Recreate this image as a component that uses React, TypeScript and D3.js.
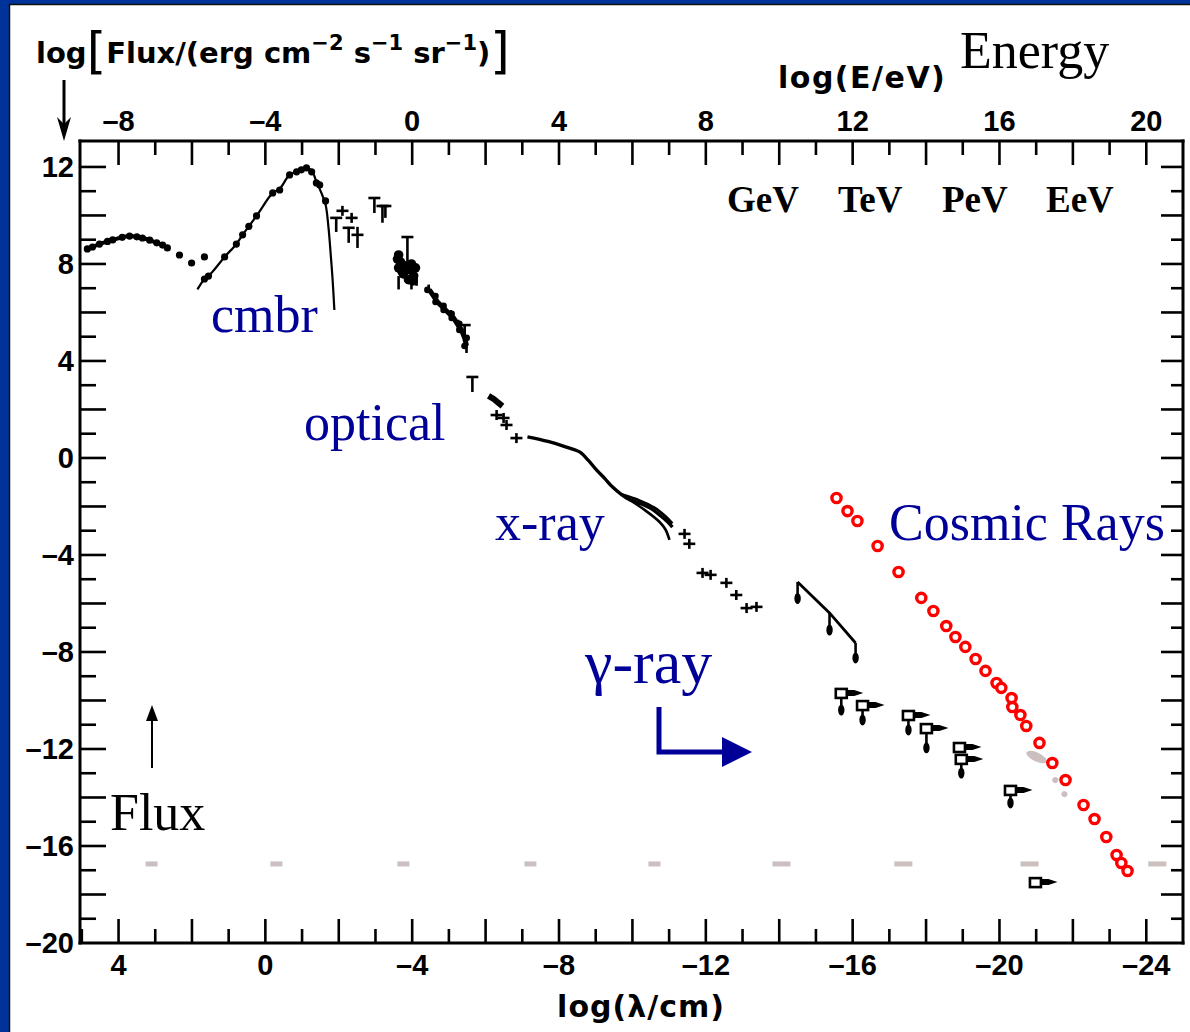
import React from 'react';
import * as d3 from 'd3';

type P = [number, number];

// ---------- axis ticks ----------
const lambdaTickLabels = [4, 0, -4, -8, -12, -16, -20, -24];
const energyTickLabels = [-8, -4, 0, 4, 8, 12, 16, 20];
const fluxTickLabels = [12, 8, 4, 0, -4, -8, -12, -16, -20];
const energyUnits = ['GeV', 'TeV', 'PeV', 'EeV'];

// ---------- data: [log(lambda/cm), log Flux] ----------
const radioLine: P[] = [[4.85, 8.62], [4.71, 8.70], [4.52, 8.82], [4.30, 8.93], [4.16, 8.99], [3.90, 9.10], [3.70, 9.15], [3.50, 9.12], [3.35, 9.07], [3.15, 8.98], [2.96, 8.87], [2.80, 8.78], [2.67, 8.66]];
const radioDots: P[] = [[4.85, 8.62], [4.71, 8.70], [4.52, 8.82], [4.30, 8.93], [4.16, 8.99], [3.90, 9.10], [3.70, 9.15], [3.50, 9.12], [3.35, 9.07], [3.15, 8.98], [2.96, 8.87], [2.80, 8.78], [2.67, 8.66], [2.34, 8.37], [2.01, 8.04], [1.66, 8.29]];
const cmbCurve: P[] = [[1.85, 6.95], [1.66, 7.38], [1.47, 7.63], [1.11, 8.29], [0.79, 8.82], [0.62, 9.20], [0.24, 9.98], [-0.20, 10.93], [-0.39, 11.10], [-0.66, 11.67], [-0.93, 11.85], [-1.12, 11.96], [-1.26, 11.85], [-1.39, 11.40], [-1.52, 10.95], [-1.64, 10.45], [-1.72, 9.50], [-1.78, 8.40], [-1.83, 7.40], [-1.88, 6.10]];
const cmbDots: P[] = [[1.66, 7.38], [1.55, 7.50], [1.11, 8.29], [0.79, 8.82], [0.62, 9.20], [0.45, 9.55], [0.24, 9.98], [-0.20, 10.93], [-0.39, 11.05], [-0.66, 11.67], [-0.85, 11.80], [-0.98, 11.88], [-1.12, 11.96], [-1.26, 11.80], [-1.39, 11.34], [-1.48, 11.26], [-1.64, 10.60]];
const irCrosses: P[] = [[-2.10, 10.19], [-2.35, 9.90]];
// [lambda, top, bottom] upper-limit "T" marks
const irLimits: [number, number, number][] = [[-1.93, 9.90, 9.32], [-2.97, 10.72, 10.10], [-3.19, 10.39, 9.70], [-3.27, 10.39, 9.90], [-3.87, 9.11, 8.10], [-5.43, 5.48, 5.07], [-5.64, 3.34, 2.72]];
// [lambda, centre, low, high] error bars
const irBars: [number, number, number, number][] = [[-2.27, 9.49, 8.87, 9.53], [-2.51, 9.20, 8.66, 9.53]];
const opticalBlob: P[] = [[-3.63, 8.37], [-3.68, 8.08], [-3.82, 7.92], [-3.95, 7.75], [-3.76, 7.59], [-4.04, 7.51], [-3.63, 7.84], [-3.90, 7.35], [-4.09, 7.84], [-3.72, 7.70], [-3.98, 8.00], [-3.60, 8.20], [-4.02, 7.30]];
// [lambda, low, high] plain vertical bars
const legBars: [number, number, number][] = [[-3.63, 6.95, 7.5], [-3.98, 6.95, 7.5], [-4.12, 7.1, 7.6], [-5.48, 4.33, 4.7], [-4.45, 6.85, 7.15], [-5.05, 5.7, 6.1], [-5.25, 5.3, 5.7]];
const nirBand: P[] = [[-4.47, 6.93], [-4.58, 6.68], [-4.69, 6.43], [-4.80, 6.27], [-4.91, 6.10], [-5.02, 5.94], [-5.13, 5.77], [-5.23, 5.53], [-5.34, 5.28], [-5.43, 4.95], [-5.48, 4.62]];
const uvBlob: P[] = [[-6.08, 2.56], [-6.22, 2.43], [-6.35, 2.27], [-6.46, 2.14]];
const uvCrosses: P[] = [[-6.30, 1.77], [-6.49, 1.65], [-6.57, 1.36], [-6.84, 0.82]];
const xrayMain: P[] = [[-7.14, 0.87], [-7.70, 0.68], [-8.20, 0.45], [-8.56, 0.25], [-8.80, -0.10], [-9.02, -0.49], [-9.25, -0.85], [-9.46, -1.20], [-9.84, -1.65], [-10.19, -1.86], [-10.50, -2.08], [-10.74, -2.35], [-10.95, -2.62], [-11.09, -2.85]];
const xrayLower: P[] = [[-9.84, -1.65], [-10.33, -2.14], [-10.74, -2.64], [-10.90, -2.95], [-11.01, -3.38]];
const xrayUpper: P[] = [[-9.70, -1.50], [-10.19, -1.75], [-10.60, -2.05], [-10.90, -2.40], [-11.09, -2.70]];
const gammaCrosses: P[] = [[-11.42, -3.13], [-11.55, -3.54], [-11.91, -4.74], [-12.13, -4.82], [-12.56, -5.15], [-12.83, -5.65], [-13.11, -6.19], [-13.38, -6.14]];
const cosbLine: P[] = [[-14.50, -5.11], [-15.37, -6.39], [-16.08, -7.63]];
const cosbArrows: [number, number, number][] = [[-14.50, -5.11, -6.0], [-15.37, -6.39, -7.3], [-16.08, -7.63, -8.45]];
// [lambda, flux, arrow end or null]
const upperLimits: [number, number, number | null][] = [[-15.69, -9.73, -10.60], [-16.27, -10.23, -11.01], [-17.52, -10.64, -11.42], [-18.01, -11.18, -12.16], [-18.91, -11.96, null], [-18.96, -12.45, -13.20], [-20.30, -13.73, -14.43], [-20.98, -17.53, null]];
const cosmicRays: P[] = [[-15.56, -1.65], [-15.86, -2.19], [-16.13, -2.60], [-16.68, -3.63], [-17.25, -4.70], [-17.87, -5.77], [-18.20, -6.31], [-18.55, -6.93], [-18.80, -7.38], [-19.07, -7.79], [-19.35, -8.29], [-19.62, -8.78], [-19.92, -9.28], [-20.05, -9.48], [-20.33, -9.90], [-20.35, -10.27], [-20.57, -10.60], [-20.73, -11.05], [-21.09, -11.75], [-21.44, -12.58], [-21.80, -13.28], [-22.29, -14.31], [-22.59, -14.89], [-22.91, -15.63], [-23.19, -16.37], [-23.32, -16.70], [-23.49, -17.03]];
const greyDashLambda = [3.10, -0.30, -3.76, -7.22, -10.60, -14.06, -17.38, -20.82, -24.30];
const greyDashFlux = -16.74;
const greySmudges: P[] = [[-21.01, -12.33], [-21.52, -13.28], [-21.77, -13.86]];

const BLUE = '#000099';
const FRAME = '#003399';
const AXF = 'DejaVu Sans, Verdana, sans-serif';
const TICKF = 'Liberation Sans, Arial, sans-serif';
const SERIF = 'Liberation Serif, Times New Roman, serif';

const fmt = (v: number) => (v < 0 ? '\u2013' + Math.abs(v) : String(v));

export default function App() {
  const x = d3.scaleLinear().domain([5.05, -25]).range([80, 1183]);
  const y = d3.scaleLinear().domain([-20, 13.07]).range([943, 141]);
  const xE = d3.scaleLinear().domain([-9.05, 21]).range([80, 1183]);
  const [X0, X1] = x.range();
  const [Y0, Y1] = y.range();
  const lin = d3.line<P>().x(d => x(d[0])).y(d => y(d[1]));
  const smooth = d3.line<P>().x(d => x(d[0])).y(d => y(d[1])).curve(d3.curveCatmullRom);

  const LONG = 24, SHORT = 14;
  const bottomTicks = d3.range(5, -24.5, -1);
  const topTicks = d3.range(-9, 20.5, 1).filter(e => xE(e) > X0 + 3);
  const sideTicks = d3.range(-19, 12.5, 1);

  const drop = (cx: number, cy: number) => (
    <ellipse cx={cx} cy={cy - 5} rx={3.2} ry={5.5} fill="#000" />
  );

  return (
    <svg width={1190} height={1032} style={{ position: 'absolute', left: 0, top: 0, background: '#fff' }}>
      <rect x={0} y={0} width={1190} height={1032} fill="#fff" />
      {/* blue slide frame */}
      <rect x={0} y={0} width={1190} height={4} fill={FRAME} />
      <rect x={0} y={0} width={9} height={1032} fill={FRAME} />
      <line x1={9} y1={4.5} x2={1190} y2={4.5} stroke="#111" strokeWidth={1.5} />
      <line x1={9.5} y1={4} x2={9.5} y2={1032} stroke="#111" strokeWidth={1.5} />

      {/* frame */}
      <g stroke="#000" strokeWidth={3} fill="none" strokeLinecap="square">
        <line x1={X0} y1={Y0} x2={X1} y2={Y0} />
        <line x1={X0} y1={Y1} x2={X1} y2={Y1} />
        <line x1={X0} y1={Y0} x2={X0} y2={Y1} />
        <line x1={X1} y1={Y0} x2={X1} y2={Y1} />
      </g>
      <g stroke="#000" strokeWidth={2.6}>
        {bottomTicks.map(t => (
          <line key={'b' + t} x1={x(t)} x2={x(t)} y1={Y0} y2={Y0 - (t % 2 === 0 ? LONG : SHORT)} />
        ))}
        {topTicks.map(t => (
          <line key={'t' + t} x1={xE(t)} x2={xE(t)} y1={Y1} y2={Y1 + (t % 2 === 0 ? LONG : SHORT)} />
        ))}
        {sideTicks.map(t => (
          <line key={'l' + t} x1={X0} x2={X0 + (t % 2 === 0 ? LONG + 2 : SHORT + 2)} y1={y(t)} y2={y(t)} />
        ))}
        {sideTicks.map(t => (
          <line key={'r' + t} x1={X1} x2={X1 - (t % 2 === 0 ? LONG - 2 : SHORT - 2)} y1={y(t)} y2={y(t)} />
        ))}
      </g>

      {/* tick labels */}
      <g fontFamily={TICKF} fontWeight="bold" fontSize={29} fill="#000">
        {lambdaTickLabels.map(t => (
          <text key={'bl' + t} x={x(t)} y={Y0 + 32} textAnchor="middle">{fmt(t)}</text>
        ))}
        {energyTickLabels.map(t => (
          <text key={'tl' + t} x={xE(t)} y={Y1 - 10} textAnchor="middle">{fmt(t)}</text>
        ))}
        {fluxTickLabels.map(t => (
          <text key={'yl' + t} x={X0 - 6} y={y(t) + 10} textAnchor="end">{fmt(t)}</text>
        ))}
      </g>

      {/* axis titles */}
      <text x={36} y={63} fontFamily={AXF} fontWeight="bold" fontSize={29} fill="#000">
        log<tspan fontSize={50} fontWeight="normal" dy={5}>[</tspan><tspan dy={-5}>Flux/(erg cm</tspan><tspan fontSize={21} dy={-13}>{'\u2212'}2</tspan><tspan dy={13}> s</tspan><tspan fontSize={21} dy={-13}>{'\u2212'}1</tspan><tspan dy={13}> sr</tspan><tspan fontSize={21} dy={-13}>{'\u2212'}1</tspan><tspan dy={13}>)</tspan><tspan fontSize={50} fontWeight="normal" dy={5}>]</tspan>
      </text>
      <text x={778} y={88} fontFamily={AXF} fontWeight="bold" fontSize={30} letterSpacing={1.5} fill="#000">log(E/eV)</text>
      <text x={641} y={1017} fontFamily={AXF} fontWeight="bold" fontSize={30} letterSpacing={1} fill="#000" textAnchor="middle">log({'\u03BB'}/cm)</text>
      <text x={960} y={68} fontFamily={SERIF} fontSize={52} fill="#000">Energy</text>
      {energyUnits.map((u, i) => (
        <text key={u} x={[727, 838, 942, 1046][i]} y={212} fontFamily={SERIF} fontWeight="bold" fontSize={37} fill="#000">{u}</text>
      ))}

      {/* arrows */}
      <line x1={64} y1={80} x2={64} y2={130} stroke="#000" strokeWidth={3} />
      <path d="M57,117 L64,141 L71,117 L64,124 Z" fill="#000" />
      <line x1={152} y1={768} x2={152} y2={712} stroke="#000" strokeWidth={2} />
      <path d="M146,721 L152,705 L158,721 Z" fill="#000" />

      {/* grey artefacts */}
      <g fill="#cbbfbf">
        {greyDashLambda.map((l, i) => {
          const w = i < 5 ? 12 : 18;
          return <rect key={'gd' + i} x={x(l) - w / 2} y={y(greyDashFlux) - 2.5} width={w} height={5} />;
        })}
        {greySmudges.map((d, i) => (
          <ellipse key={'gs' + i} cx={x(d[0])} cy={y(d[1])} rx={i === 0 ? 11 : 3} ry={i === 0 ? 4.5 : 3} transform={`rotate(25 ${x(d[0])} ${y(d[1])})`} />
        ))}
      </g>

      {/* radio + cmb */}
      <path d={smooth(radioLine) || ''} fill="none" stroke="#000" strokeWidth={4} />
      {radioDots.map((d, i) => <circle key={'rd' + i} cx={x(d[0])} cy={y(d[1])} r={3.6} fill="#000" />)}
      <path d={smooth(cmbCurve) || ''} fill="none" stroke="#000" strokeWidth={2.2} />
      {cmbDots.map((d, i) => <circle key={'cd' + i} cx={x(d[0])} cy={y(d[1])} r={3.6} fill="#000" />)}

      {/* IR / optical / UV marks */}
      <g stroke="#000" strokeWidth={2.6} fill="none">
        {[...irCrosses, ...uvCrosses, ...gammaCrosses].map((d, i) => (
          <g key={'cr' + i}>
            <line x1={x(d[0]) - 6} x2={x(d[0]) + 6} y1={y(d[1])} y2={y(d[1])} />
            <line x1={x(d[0])} x2={x(d[0])} y1={y(d[1]) - 5} y2={y(d[1]) + 5} />
          </g>
        ))}
        {irLimits.map((d, i) => (
          <g key={'lim' + i}>
            <line x1={x(d[0]) - 6} x2={x(d[0]) + 6} y1={y(d[1])} y2={y(d[1])} />
            <line x1={x(d[0])} x2={x(d[0])} y1={y(d[1])} y2={y(d[2])} />
          </g>
        ))}
        {irBars.map((d, i) => (
          <g key={'bar' + i}>
            <line x1={x(d[0]) - 6} x2={x(d[0]) + 6} y1={y(d[1])} y2={y(d[1])} />
            <line x1={x(d[0])} x2={x(d[0])} y1={y(d[2])} y2={y(d[3])} />
          </g>
        ))}
        {legBars.map((d, i) => (
          <line key={'leg' + i} x1={x(d[0])} x2={x(d[0])} y1={y(d[1])} y2={y(d[2])} />
        ))}
      </g>
      {opticalBlob.map((d, i) => <circle key={'ob' + i} cx={x(d[0])} cy={y(d[1])} r={4.8} fill="#000" />)}
      <path d={lin(nirBand) || ''} fill="none" stroke="#000" strokeWidth={5} />
      {nirBand.map((d, i) => <circle key={'nb' + i} cx={x(d[0]) + (i % 2 ? 2 : -2)} cy={y(d[1])} r={3.3} fill="#000" />)}
      <path d={lin(uvBlob) || ''} fill="none" stroke="#000" strokeWidth={6} />

      {/* x-ray */}
      <path d={smooth(xrayMain) || ''} fill="none" stroke="#000" strokeWidth={3.4} />
      <path d={smooth(xrayLower) || ''} fill="none" stroke="#000" strokeWidth={2.6} />
      <path d={smooth(xrayUpper) || ''} fill="none" stroke="#000" strokeWidth={2.6} />

      {/* gamma (COS-B style) */}
      <path d={lin(cosbLine) || ''} fill="none" stroke="#000" strokeWidth={2.8} />
      {cosbArrows.map((d, i) => (
        <g key={'ca' + i}>
          <line x1={x(d[0])} x2={x(d[0])} y1={y(d[1])} y2={y(d[2])} stroke="#000" strokeWidth={2.6} />
          {drop(x(d[0]), y(d[2]))}
        </g>
      ))}
      {upperLimits.map((d, i) => {
        const cx = x(d[0]), cy = y(d[1]);
        return (
          <g key={'ul' + i}>
            {d[2] !== null && (
              <g>
                <line x1={cx} x2={cx} y1={cy + 4} y2={y(d[2])} stroke="#000" strokeWidth={2.6} />
                {drop(cx, y(d[2]))}
              </g>
            )}
            <path d={`M${cx + 5},${cy - 4} L${cx + 13},${cy - 4} L${cx + 22},${cy - 1} L${cx + 13},${cy + 2} L${cx + 5},${cy + 2} Z`} fill="#000" />
            <rect x={cx - 5.5} y={cy - 5} width={11} height={9} fill="#fff" stroke="#000" strokeWidth={2.6} />
          </g>
        );
      })}

      {/* cosmic rays */}
      {cosmicRays.map((d, i) => (
        <circle key={'cr' + i} cx={x(d[0])} cy={y(d[1])} r={4.6} fill="#fff" stroke="#ff0000" strokeWidth={3.4} />
      ))}

      {/* region labels */}
      <g fontFamily={SERIF} fontSize={52} fill={BLUE}>
        <text x={211} y={332}>cmbr</text>
        <text x={304} y={440}>optical</text>
        <text x={495} y={540}>x-ray</text>
        <text x={889} y={540}>Cosmic Rays</text>
        <text x={585} y={683} fontSize={62}>{'\u03B3'}-ray</text>
      </g>
      <text x={110} y={830} fontFamily={SERIF} fontSize={52} fill="#000">Flux</text>
      <path d="M659,707 V752 H724" fill="none" stroke={BLUE} strokeWidth={5} />
      <path d="M722,737 L752,752 L722,767 Z" fill={BLUE} />
    </svg>
  );
}
